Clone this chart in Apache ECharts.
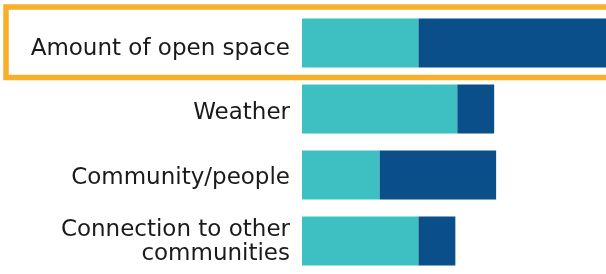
<!DOCTYPE html>
<html><head><meta charset="utf-8">
<script src="https://cdn.jsdelivr.net/npm/echarts@6/dist/echarts.min.js"></script>
<style>html,body{margin:0;padding:0;background:#fff}#c{width:606px;height:274px}</style>
</head><body><div id="c"></div>
<script>
const categories = ["Amount of open space", "Weather", "Community/people", "Connection to other\ncommunities"];
const tealValues = [30, 40, 20, 30];
const darkValues = [52, 9.5, 30, 9.5];

const chart = echarts.init(document.getElementById('c'), null, {renderer: 'canvas'});
chart.setOption({
  animation: false,
  grid: [
    {left: 302, right: 0, top: 10, height: 268},
    {left: 302, right: 0, top: 17, height: 268}
  ],
  xAxis: [
    {type: 'value', min: 0, max: 78.3, show: false, gridIndex: 0},
    {type: 'value', min: 0, max: 78.3, show: false, gridIndex: 1}
  ],
  yAxis: [
    {type: 'category', data: categories, inverse: true, gridIndex: 0, show: false},
    {
      type: 'category', data: categories, inverse: true, gridIndex: 1,
      axisLine: {show: false}, axisTick: {show: false},
      axisLabel: {color: '#1a1a1a', fontFamily: 'DejaVu Sans', fontSize: 23, margin: 12, lineHeight: 23.5, align: 'right'}
    }
  ],
  series: [
    {type: 'bar', stack: 's', data: tealValues, barWidth: 49, itemStyle: {color: '#3EBFC1'}},
    {type: 'bar', stack: 's', data: darkValues, barWidth: 49, itemStyle: {color: '#0B4F8A'}}
  ],
  graphic: [{type: 'rect', shape: {x: 6, y: 7, width: 640, height: 70.5}, style: {fill: null, stroke: '#F6B02A', lineWidth: 5.5}, z: 10}]
});
</script></body></html>
